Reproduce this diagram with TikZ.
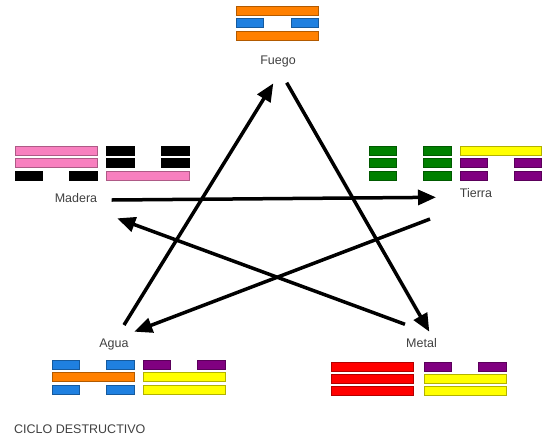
\documentclass[tikz,border=0pt]{standalone}
\usepackage{fontspec}
\setmainfont{Liberation Sans}
\usetikzlibrary{arrows.meta}
\definecolor{cOrange}{HTML}{FF8000}
\definecolor{cBlue}{HTML}{1F80E0}
\definecolor{cPink}{HTML}{F880BF}
\definecolor{cGreen}{HTML}{008000}
\definecolor{cYellow}{HTML}{FFFF00}
\definecolor{cPurple}{HTML}{800080}
\definecolor{cRed}{HTML}{FF0000}
\definecolor{cText}{HTML}{404040}
\newcommand{\yangbar}[5]{\draw[yaobar,fill=#5,draw=#5!70!black] (#1,#3) rectangle (#2,#4);}
\newcommand{\yinbar}[5]{%
  \pgfmathsetmacro{\yinA}{#1+(#2-#1)/3}%
  \pgfmathsetmacro{\yinB}{#2-(#2-#1)/3}%
  \draw[yaobar,fill=#5,draw=#5!70!black] (#1,#3) rectangle (\yinA,#4);
  \draw[yaobar,fill=#5,draw=#5!70!black] (\yinB,#3) rectangle (#2,#4);}
\tikzset{
  yaobar/.style={line width=0.6pt},
  lbl/.style={text=cText,font=\fontsize{12.5}{14}\selectfont,inner sep=0pt},
  arr/.style={line width=3.5pt,-{Triangle[length=18pt,width=15pt]}}
}
\begin{document}
\begin{tikzpicture}[x=1pt,y=-1pt]
\useasboundingbox (0,0) rectangle (549,440);
% Fuego
\yangbar{236}{318.7}{6}{15}{cOrange}
\yinbar{236}{318.7}{18.5}{27.5}{cBlue}
\yangbar{236}{318.7}{31}{40}{cOrange}
% Madera
\yangbar{15}{97}{146}{155}{cPink}
\yangbar{15}{97}{158.5}{167.5}{cPink}
\yinbar{15}{97}{171}{180}{black}
\yinbar{106.7}{189}{146}{155}{black}
\yinbar{106.7}{189}{158.5}{167.5}{black}
\yangbar{106.7}{189}{171}{180}{cPink}
% Tierra
\yinbar{369}{451}{146}{155}{cGreen}
\yinbar{369}{451}{158.5}{167.5}{cGreen}
\yinbar{369}{451}{171}{180}{cGreen}
\yangbar{460}{541.7}{146}{155}{cYellow}
\yinbar{460}{541.7}{158.5}{167.5}{cPurple}
\yinbar{460}{541.7}{171}{180}{cPurple}
% Agua
\yinbar{52.3}{134}{360}{369}{cBlue}
\yangbar{52.3}{134}{372.5}{381.5}{cOrange}
\yinbar{52.3}{134}{385}{394}{cBlue}
\yinbar{143.3}{225}{360}{369}{cPurple}
\yangbar{143.3}{225}{372.5}{381.5}{cYellow}
\yangbar{143.3}{225}{385}{394}{cYellow}
% Metal
\yangbar{331}{413.3}{362.5}{371.5}{cRed}
\yangbar{331}{413.3}{374.5}{383.5}{cRed}
\yangbar{331}{413.3}{386.5}{395.5}{cRed}
\yinbar{424}{506}{362.5}{371.5}{cPurple}
\yangbar{424}{506}{374.5}{383.5}{cYellow}
\yangbar{424}{506}{386.5}{395.5}{cYellow}
% labels
\node[lbl] (fuego) at (278,61) {Fuego};
\node[lbl] (madera) at (76,198) {Madera};
\node[lbl] (tierra) at (476,193) {Tierra};
\node[lbl] (agua) at (114,344) {Agua};
\node[lbl] (metal) at (421.5,343.5) {Metal};
\node[lbl,anchor=west] (ciclo) at (14,429) {CICLO DESTRUCTIVO};
% arrow end points
\coordinate (aguaOut) at (124,325);
\coordinate (fuegoIn) at (273.3,83.3);
\coordinate (fuegoOut) at (286.7,82.7);
\coordinate (metalIn) at (429.3,331.7);
\coordinate (metalOut) at (405,324.3);
\coordinate (maderaIn) at (117.3,218.3);
\coordinate (maderaOut) at (111.7,200);
\coordinate (tierraIn) at (436,197.3);
\coordinate (tierraOut) at (430,219);
\coordinate (aguaIn) at (134.3,331.7);
\draw[arr] (aguaOut) -- (fuegoIn);
\draw[arr] (fuegoOut) -- (metalIn);
\draw[arr] (metalOut) -- (maderaIn);
\draw[arr] (maderaOut) -- (tierraIn);
\draw[arr] (tierraOut) -- (aguaIn);
\end{tikzpicture}
\end{document}
